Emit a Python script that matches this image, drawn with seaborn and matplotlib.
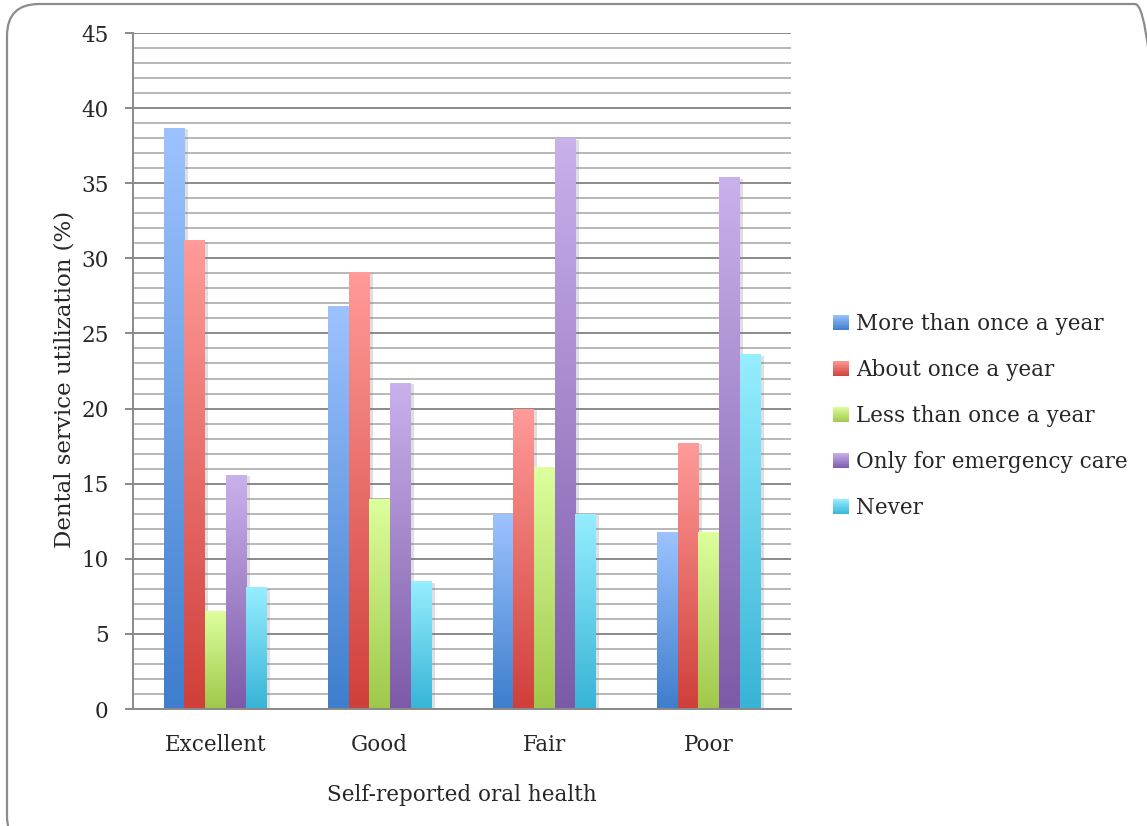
import numpy as np
import pandas as pd
import matplotlib
matplotlib.use("Agg")
import matplotlib.pyplot as plt
import matplotlib.patheffects as pe
from matplotlib.patches import Rectangle, FancyBboxPatch
from matplotlib.transforms import IdentityTransform
from matplotlib.colors import to_rgb
from matplotlib.legend_handler import HandlerBase
import seaborn as sns

# Dental service utilization (%) by self-reported oral health
categories = ["Excellent", "Good", "Fair", "Poor"]
series = ["More than once a year", "About once a year", "Less than once a year",
          "Only for emergency care", "Never"]
more_than_once = [38.7, 26.8, 13.0, 11.8]
about_once = [31.2, 29.1, 20.0, 17.7]
less_than_once = [6.5, 14.0, 16.1, 11.8]
emergency_only = [15.6, 21.7, 38.0, 35.4]
never = [8.1, 8.5, 13.0, 23.6]

# light (top) / dark (bottom) gradient stops for each series
top_colors = ["#9DC3FF", "#FF9B99", "#DDFF9D", "#C9B1EC", "#96EEFF"]
bottom_colors = ["#3E7ECD", "#D03F3A", "#9FC84A", "#7D5AA8", "#37B4D6"]
mid_colors = [tuple((np.array(to_rgb(a)) + np.array(to_rgb(b))) / 2)
              for a, b in zip(top_colors, bottom_colors)]

values = [more_than_once, about_once, less_than_once, emergency_only, never]
df = pd.DataFrame({
    "health": np.tile(categories, len(series)),
    "frequency": np.repeat(series, len(categories)),
    "pct": np.concatenate(values),
})

sns.set_theme(style="white")
plt.rcParams["font.family"] = ["DejaVu Serif"]
plt.rcParams["font.size"] = 15

fig = plt.figure(figsize=(11.47, 8.26), dpi=100)
ax = fig.add_axes([133 / 1147, 1 - 709 / 826, 658 / 1147, 676 / 826])
ax.set_axisbelow(True)

sns.barplot(data=df, x="health", y="pct", hue="frequency", order=categories,
            hue_order=series, palette=mid_colors, width=0.625, gap=0,
            saturation=1, ax=ax, legend=False, edgecolor="none", linewidth=0)


def vertical_gradient(c_top, c_bottom, n=128):
    t = np.linspace(0, 1, n)[:, None]
    top = np.array(to_rgb(c_top))
    bot = np.array(to_rgb(c_bottom))
    return (bot * (1 - t) + top * t)[:, None, :].reshape(n, 1, 3)


for i, cont in enumerate(ax.containers):
    grad = vertical_gradient(top_colors[i], bottom_colors[i])
    for bar in cont:
        x0, w, h = bar.get_x(), bar.get_width(), bar.get_height()
        bar.set_path_effects([pe.SimplePatchShadow(offset=(2.5, -1), shadow_rgbFace="#808080",
                                                   alpha=0.25), pe.Normal()])
        im = ax.imshow(grad, extent=[x0, x0 + w, 0, h], origin="lower",
                       aspect="auto", interpolation="bilinear", zorder=bar.get_zorder() + 0.1)
        im.set_clip_path(bar)

ax.set_xlim(-0.5, 3.5)
ax.set_ylim(0, 45)
ax.set_yticks(np.arange(0, 46, 5))
ax.set_yticks(np.arange(0, 46, 1), minor=True)
ax.grid(which="major", axis="y", color="#8a8a8a", lw=1.4)
ax.grid(which="minor", axis="y", color="#b8b8b8", lw=1.4)
ax.grid(which="major", axis="x", visible=False)

for s in ["top", "right"]:
    ax.spines[s].set_visible(False)
for s in ["left", "bottom"]:
    ax.spines[s].set_color("#8a8a8a")
    ax.spines[s].set_linewidth(1.4)

ax.tick_params(axis="y", which="major", direction="out", length=5.5, width=1.4,
               color="#8a8a8a", pad=12, labelsize=15.5, left=True)
ax.tick_params(axis="y", which="minor", length=0)
ax.tick_params(axis="x", length=0, pad=18, labelsize=15.5)

ax.set_xlabel("Self-reported oral health", fontsize=15.5, labelpad=20)
ax.set_ylabel("Dental service utilization (%)", fontsize=16.5)
ax.yaxis.set_label_coords(-0.087, 0.487)


class GradientHandler(HandlerBase):
    def __init__(self, c_top, c_bottom, steps=20):
        super().__init__()
        self.c_top, self.c_bottom, self.steps = c_top, c_bottom, steps

    def create_artists(self, legend, orig_handle, xdescent, ydescent, width, height,
                       fontsize, trans):
        top = np.array(to_rgb(self.c_top))
        bot = np.array(to_rgb(self.c_bottom))
        arts = []
        dh = height / self.steps
        for k in range(self.steps):
            t = (k + 0.5) / self.steps
            col = bot * (1 - t) + top * t
            r = Rectangle((-xdescent, -ydescent + k * dh), width, dh * 1.05,
                          facecolor=col, edgecolor="none", transform=trans)
            arts.append(r)
        return arts


handles = [Rectangle((0, 0), 1, 1) for _ in series]
hmap = {h: GradientHandler(t, b) for h, t, b in zip(handles, top_colors, bottom_colors)}
fig.legend(handles, series, handler_map=hmap, loc="center left",
           bbox_to_anchor=(833 / 1147, 1 - 416 / 826), frameon=False,
           fontsize=15.5, handlelength=0.72, handleheight=0.72, handletextpad=0.35,
           labelspacing=1.12, borderpad=0, borderaxespad=0)

# rounded chart-area border
frame = FancyBboxPatch((7, -22), 1160, 844, boxstyle="round,pad=0,rounding_size=32",
                       transform=IdentityTransform(), facecolor="none",
                       edgecolor="#8c8c8c", lw=1.6, clip_on=False)
fig.add_artist(frame)

fig.savefig("out.png", dpi=100)
